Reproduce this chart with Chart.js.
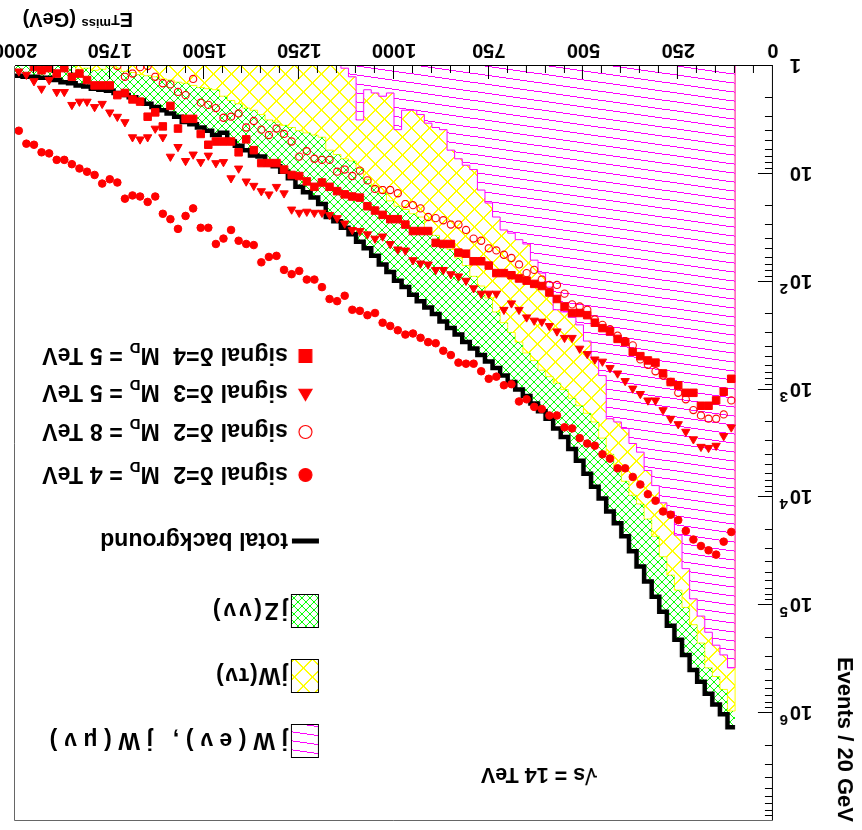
<!DOCTYPE html>
<html>
<head>
<meta charset="utf-8">
<script src="https://cdn.jsdelivr.net/npm/chart.js@4.4.1/dist/chart.umd.min.js"></script>
<style>
  html, body { margin: 0; padding: 0; background: #fff; }
  /* the reference picture is upside down, so the whole plot is turned */
  #wrap { width: 862px; height: 830px; transform: rotate(180deg); }
  canvas { display: block; }
</style>
</head>
<body>
<div id="wrap"><canvas id="chart" width="862" height="830"></canvas></div>
<script>
// binning and axis ranges
const binStart = 100;     // GeV, lower edge of first filled bin
const binWidth = 20;      // GeV
const xMin = 0, xMax = 2000;
const yMin = 1, yMax = 1e7;
const xMajorStep = 250, xMinorStep = 50;
const xTickLabels = [0, 250, 500, 750, 1000, 1250, 1500, 1750, 2000];
const yDecades = [0, 1, 2, 3, 4, 5, 6];

// all series are log10(events / 20 GeV), bins 100-120 ... 1980-2000
// stacked background tops: jW(ev)+jW(muv), + jW(tauv), + jZ(vv) = total
const stackEW = [
  5.58, 5.46, 5.37, 5.25, 5.10, 4.94, 4.66, 4.35, 4.13, 4.05,
  3.89, 3.75, 3.58, 3.50, 3.36, 3.30, 3.27, 2.87, 2.72, 2.55,
  2.40, 2.33, 2.28, 2.26, 2.05, 1.92, 1.80, 1.65, 1.61, 1.55,
  1.52, 1.40, 1.27, 1.15, 0.96, 0.92, 0.86, 0.78, 0.59, 0.57,
  0.53, 0.45, 0.41, 0.41, 0.59, 0.25, 0.28, 0.25, 0.22, 0.50,
  0.10, 0.02, -0.10, -0.15, -0.25, -0.30, -0.35, -0.40, -0.45, -0.50,
  -0.55, -0.60, -0.65, -0.70, -0.75, -0.80, -0.85, -0.90, -0.95, -1.0,
  -1.0, -1.0, -1.0, -1.0, -1.0, -1.0, -1.0, -1.0, -1.0, -1.0,
  -1.0, -1.0, -1.0, -1.0, -1.0, -1.0, -1.0, -1.0, -1.0, -1.0,
  -1.0, -1.0, -1.0, -1.0, -1.0
];
const stackTau = [
  5.98, 5.78, 5.66, 5.58, 5.35, 5.18, 5.02, 4.86, 4.72, 4.55,
  4.36, 4.20, 4.06, 3.98, 3.85, 3.72, 3.60, 3.45, 3.30, 3.22,
  3.15, 3.08, 3.00, 2.94, 2.88, 2.82, 2.73, 2.66, 2.56, 2.47,
  2.38, 2.28, 2.15, 2.04, 1.95, 1.85, 1.78, 1.70, 1.63, 1.57,
  1.50, 1.40, 1.37, 1.33, 1.30, 1.25, 1.18, 1.12, 1.05, 0.95,
  0.88, 0.86, 0.82, 0.78, 0.66, 0.64, 0.62, 0.60, 0.57, 0.55,
  0.52, 0.50, 0.45, 0.41, 0.39, 0.35, 0.32, 0.28, 0.22, 0.21,
  0.20, 0.18, 0.16, 0.15, 0.13, 0.12, 0.10, 0.09, 0.08, 0.06,
  0.05, 0.02, 0.00, 0.03, 0.04, 0.02, 0.03, -0.05, -0.10, -0.15,
  -0.25, -0.20, -0.35, -0.30, -0.40
];
const stackTotal = [
  6.13, 6.01, 5.92, 5.82, 5.71, 5.60, 5.46, 5.32, 5.19, 5.06,
  4.92, 4.78, 4.64, 4.50, 4.36, 4.24, 4.13, 4.01, 3.90, 3.78,
  3.66, 3.55, 3.44, 3.36, 3.27, 3.20, 3.13, 3.06, 3.00, 2.93,
  2.87, 2.80, 2.74, 2.68, 2.62, 2.56, 2.49, 2.43, 2.37, 2.30,
  2.24, 2.18, 2.12, 2.05, 1.99, 1.91, 1.84, 1.76, 1.69, 1.63,
  1.56, 1.50, 1.44, 1.40, 1.28, 1.22, 1.17, 1.12, 1.04, 0.98,
  0.93, 0.91, 0.84, 0.83, 0.78, 0.74, 0.70, 0.62, 0.64, 0.60,
  0.57, 0.54, 0.52, 0.47, 0.44, 0.41, 0.38, 0.35, 0.32, 0.29,
  0.27, 0.25, 0.23, 0.22, 0.21, 0.19, 0.18, 0.16, 0.15, 0.13,
  0.11, 0.11, 0.10, 0.10, 0.09
];

// signal points, one per bin (null = below the plot)
const sigD2M4 = [
  4.32, 4.41, 4.53, 4.49, 4.45, 4.39, 4.31, 4.21, 4.16, 4.13,
  4.03, 3.97, 3.88, 3.81, 3.73, 3.73, 3.64, 3.60, 3.52, 3.50,
  3.45, 3.36, 3.35, 3.24, 3.24, 3.18, 3.16, 3.09, 3.11, 2.95,
  2.96, 2.88, 2.90, 2.83, 2.76, 2.76, 2.75, 2.68, 2.64, 2.57,
  2.56, 2.52, 2.48, 2.49, 2.45, 2.41, 2.38, 2.29, 2.31, 2.27,
  2.26, 2.13, 2.18, 2.16, 2.05, 1.98, 1.98, 1.90, 1.93, 1.89,
  1.76, 1.77, 1.82, 1.66, 1.65, 1.62, 1.52, 1.60, 1.65, 1.50,
  1.50, 1.32, 1.39, 1.51, 1.42, 1.37, 1.21, 1.26, 1.21, 1.20,
  1.23, 1.08, 1.05, 1.09, 1.01, 0.98, 0.95, 0.91, 0.87, 0.87,
  0.81, 0.80, 0.73, 0.72, 0.60
];
const sigD2M8 = [
  3.10, 3.23, 3.27, 3.27, 3.24, 3.19, 3.09, 3.03, 2.93, 2.87,
  2.83, 2.77, 2.72, 2.59, 2.55, 2.50, 2.44, 2.40, 2.35, 2.26,
  2.23, 2.21, 2.11, 2.03, 2.03, 1.98, 1.89, 1.92, 1.84, 1.78,
  1.75, 1.71, 1.69, 1.62, 1.60, 1.52, 1.47, 1.47, 1.43, 1.41,
  1.40, 1.32, 1.29, 1.28, 1.18, 1.15, 1.15, 1.14, 1.06, 0.97,
  1.02, 0.96, 0.98, 0.87, 0.87, 0.86, 0.79, 0.84, 0.70, 0.63,
  0.58, 0.64, 0.59, 0.51, 0.57, 0.44, 0.47, 0.48, 0.39, 0.36,
  0.34, 0.12, 0.27, 0.24, 0.17, 0.16, 0.10, 0.00, 0.01, 0.07,
  0.10, 0.00, null, null, null, null, null, null, null, null,
  null, null, null, null, null
];
const sigD3M5 = [
  3.35, 3.43, 3.52, 3.54, 3.53, 3.46, 3.39, 3.32, 3.27, 3.19,
  3.10, 3.10, 3.04, 2.99, 2.92, 2.85, 2.80, 2.74, 2.72, 2.67,
  2.62, 2.52, 2.52, 2.46, 2.41, 2.37, 2.36, 2.33, 2.26, 2.20,
  2.26, 2.11, 2.11, 2.11, 2.06, 1.99, 1.95, 1.93, 1.89, 1.89,
  1.84, 1.83, 1.80, 1.71, 1.70, 1.65, 1.58, 1.60, 1.56, 1.53,
  1.52, 1.46, 1.41, 1.38, 1.36, 1.36, 1.35, 1.36, 1.33, 1.18,
  1.12, 1.19, 1.16, 1.11, 1.07, 0.95, 1.04, 0.89, 0.90, 0.83,
  0.89, 0.82, 0.88, 0.75, 0.84, 0.66, 0.58, 0.66, 0.68, 0.66,
  0.52, 0.47, 0.43, 0.35, 0.38, 0.33, 0.33, 0.36, 0.24, 0.24,
  0.13, 0.21, 0.14, 0.08, 0.05
];
const sigD4M5 = [
  2.90, 3.02, 3.10, 3.15, 3.15, 3.03, 3.03, 2.96, 2.93, 2.85,
  2.75, 2.73, 2.69, 2.65, 2.56, 2.53, 2.46, 2.43, 2.38, 2.31,
  2.29, 2.29, 2.23, 2.16, 2.10, 2.04, 2.02, 1.99, 1.97, 1.94,
  1.92, 1.92, 1.85, 1.81, 1.81, 1.74, 1.73, 1.65, 1.65, 1.64,
  1.53, 1.53, 1.53, 1.47, 1.42, 1.42, 1.38, 1.34, 1.30, 1.22,
  1.21, 1.19, 1.16, 1.12, 1.08, 1.12, 1.07, 1.02, 1.01, 0.96,
  0.90, 0.90, 0.90, 0.78, 0.68, 0.80, 0.70, 0.70, 0.70, 0.73,
  0.63, 0.49, 0.49, 0.58, 0.37, 0.56, 0.43, 0.47, 0.33, 0.31,
  0.25, 0.27, 0.18, 0.18, 0.18, 0.13, 0.07, 0.10, 0.02, 0.07,
  0.02, 0.04, 0.01, null, null
];

const FONT = '"Liberation Sans", Arial, Helvetica, sans-serif';
const RED = '#ff0000';
const PINK = '#ff00ff', YELLOW = '#ffff00', GREEN = '#00ff00';

const canvas = document.getElementById('chart');
const ctx = canvas.getContext('2d');

const toEvents = v => (v === null ? null : Math.pow(10, v));

// histogram outline: starts on the axis floor, one point per bin edge
const histPoints = vals => {
  const pts = [{ x: binStart, y: yMin }];
  vals.forEach((v, i) => pts.push({ x: binStart + i * binWidth, y: toEvents(v) }));
  pts.push({ x: binStart + vals.length * binWidth, y: toEvents(vals[vals.length - 1]) });
  return pts;
};
const markerPoints = vals => vals.map((v, i) => ({ x: binStart + (i + 0.5) * binWidth, y: toEvents(v) }));

// crisp hatch tiles, like the ROOT fill styles
const diamondTile = (s, color, thick) => {
  const c = document.createElement('canvas');
  c.width = s; c.height = s;
  const g = c.getContext('2d');
  g.fillStyle = color;
  const dot = (x, y) => g.fillRect(((x % s) + s) % s, y, 1, 1);
  for (let i = 0; i < s; i++) {
    dot(i, i);
    dot(s - 1 - i, i);
    if (thick) { dot(i + 1, i); dot(s - i, i); }
  }
  return ctx.createPattern(c, 'repeat');
};
const slantTile = (w, h, color) => {
  const c = document.createElement('canvas');
  c.width = w; c.height = h;
  const g = c.getContext('2d');
  g.fillStyle = color;
  for (let i = 0; i < w; i++) g.fillRect(i, Math.floor(i * h / w), 1, 1);
  return ctx.createPattern(c, 'repeat');
};
const pinkHatch = slantTile(64, 9, PINK);
const yellowHatch = diamondTile(18, YELLOW, true);
const greenHatch = diamondTile(8, GREEN, false);

const histCommon = { stepped: 'before', pointRadius: 0, pointHoverRadius: 0, clip: 0 };
const markerCommon = { showLine: false, clip: 0, order: 0, pointBorderColor: RED, pointHoverRadius: 0 };

// text made of pieces [text, size, dy]; optional target width spreads the letters
const drawRich = (c, x, y, parts, target) => {
  let natural = 0, chars = 0;
  for (const [t, size] of parts) {
    c.font = `bold ${size}px ${FONT}`;
    natural += c.measureText(t).width;
    chars += [...t].length;
  }
  const spacing = target ? Math.max(0, (target - natural) / chars) : 0;
  let cx = x;
  for (const [t, size, dy] of parts) {
    c.font = `bold ${size}px ${FONT}`;
    c.letterSpacing = `${spacing}px`;
    c.fillText(t, cx, y + dy);
    cx += c.measureText(t).width;
  }
  c.letterSpacing = '0px';
};

const frameAndTicks = {
  id: 'frameAndTicks',
  beforeDraw(chart) {
    const c = chart.ctx;
    c.save();
    c.fillStyle = '#fff';
    c.fillRect(0, 0, chart.width, chart.height);
    c.restore();
  },
  afterDatasetsDraw(chart) {
    const { ctx: c, chartArea: a, scales: { x, y } } = chart;
    c.save();
    c.lineWidth = 1;
    c.strokeStyle = '#000';
    c.beginPath();
    for (let v = xMin; v <= xMax; v += xMinorStep) {
      const px = Math.round(x.getPixelForValue(v)) + 0.5;
      const len = v % xMajorStep === 0 ? 13 : 7;
      c.moveTo(px, a.bottom); c.lineTo(px, a.bottom - len);
    }
    for (const n of yDecades) {
      for (let m = 1; m <= 9; m++) {
        const py = Math.round(y.getPixelForValue(m * Math.pow(10, n))) + 0.5;
        const len = m === 1 ? 15 : 8;
        c.moveTo(a.left, py); c.lineTo(a.left + len, py);
      }
    }
    c.stroke();
    // frame
    c.beginPath();
    c.moveTo(Math.round(a.left) + 0.5, a.top);
    c.lineTo(Math.round(a.left) + 0.5, Math.round(a.bottom) + 0.5);
    c.lineTo(a.right, Math.round(a.bottom) + 0.5);
    c.stroke();
    c.strokeStyle = '#666';
    c.beginPath();
    c.moveTo(Math.round(a.left), Math.round(a.top) + 0.5);
    c.lineTo(Math.round(a.right) + 0.5, Math.round(a.top) + 0.5);
    c.lineTo(Math.round(a.right) + 0.5, a.bottom);
    c.stroke();
    c.restore();
  },
  afterDraw(chart) {
    const { ctx: c, chartArea: a, scales: { x, y } } = chart;
    c.save();
    c.fillStyle = '#000';
    // x tick labels
    c.font = `bold 20px ${FONT}`;
    c.textAlign = 'center';
    c.textBaseline = 'alphabetic';
    for (const v of xTickLabels) c.fillText(String(v), x.getPixelForValue(v), a.bottom + 22);
    // y tick labels
    for (const n of yDecades) {
      const py = y.getPixelForValue(Math.pow(10, n));
      c.font = `bold 20px ${FONT}`;
      c.textAlign = 'right';
      c.fillText(n === 0 ? '1' : '10', 72, py + 7);
      if (n >= 2) {
        c.textAlign = 'left';
        c.font = `bold 15px ${FONT}`;
        c.fillText(String(n), 74, py - 2);
      }
    }
    // axis titles
    c.textAlign = 'left';
    drawRich(c, 729, 817, [['E', 20, 0], ['T', 14, -2], ['miss', 13, -6], [' (GeV)', 20, 0]]);
    c.save();
    c.translate(24, 8);
    c.rotate(-Math.PI / 2);
    c.textAlign = 'right';
    c.font = `bold 22px ${FONT}`;
    c.fillText('Events / 20 GeV', 0, 0);
    c.restore();
    // energy label
    c.font = `bold 21.5px ${FONT}`;
    c.fillText('\u221As = 14 TeV', 265, 62);
    c.restore();
  }
};

const LF = 23;  // legend font size
const legendRows = [
  { y: 88.5, box: pinkHatch, width: 245, parts: [['jW(e\u03BD), jW(\u03BC\u03BD)', LF, 0]] },
  { y: 153.5, box: yellowHatch, width: 73, parts: [['jW(\u03C4\u03BD)', LF, 0]] },
  { y: 218.5, box: greenHatch, width: 78, parts: [['jZ(\u03BD\u03BD)', LF, 0]] },
  { y: 289, line: true, width: 188, parts: [['total background', LF, 0]] },
  { y: 355, marker: { pointStyle: 'circle', radius: 6.5, fill: true }, width: 246, parts: [['signal \u03B4=2  M', LF, 0], ['D', 15, 5], [' = 4 TeV', LF, 0]] },
  { y: 398, marker: { pointStyle: 'circle', radius: 6.5, fill: false }, width: 246, parts: [['signal \u03B4=2  M', LF, 0], ['D', 15, 5], [' = 8 TeV', LF, 0]] },
  { y: 437, marker: { pointStyle: 'triangle', radius: 7.5, fill: true }, width: 246, parts: [['signal \u03B4=3  M', LF, 0], ['D', 15, 5], [' = 5 TeV', LF, 0]] },
  { y: 474, marker: { pointStyle: 'rect', radius: 9, fill: true }, width: 246, parts: [['signal \u03B4=4  M', LF, 0], ['D', 15, 5], [' = 5 TeV', LF, 0]] }
];

const legendBox = {
  id: 'legendBox',
  afterDraw(chart) {
    const c = chart.ctx;
    const mx = 556.5, tx = 574;
    c.save();
    for (const row of legendRows) {
      if (row.box) {
        c.fillStyle = row.box;
        c.fillRect(543, row.y - 16.5, 27, 33);
        c.strokeStyle = '#000';
        c.lineWidth = 1;
        c.strokeRect(543.5, Math.round(row.y - 16.5) + 0.5, 27, 33);
      } else if (row.line) {
        c.fillStyle = '#000';
        c.fillRect(543, row.y - 2.5, 27, 5);
      } else {
        const m = row.marker;
        c.fillStyle = m.fill ? RED : 'rgba(0,0,0,0)';
        c.strokeStyle = RED;
        c.lineWidth = 1.2;
        Chart.helpers.drawPoint(c, { pointStyle: m.pointStyle, radius: m.radius, rotation: 0, borderWidth: 1.2 }, mx, row.y);
      }
      c.fillStyle = '#000';
      c.textAlign = 'left';
      c.textBaseline = 'alphabetic';
      drawRich(c, tx, row.y + 8, row.parts, row.width);
    }
    c.restore();
  }
};

new Chart(ctx, {
  type: 'line',
  data: {
    datasets: [
      { label: 'jW(e\u03BD), jW(\u03BC\u03BD)', data: histPoints(stackEW), borderColor: PINK, borderWidth: 1,
        backgroundColor: pinkHatch, fill: 'start', order: 2, ...histCommon },
      { label: 'jW(\u03C4\u03BD)', data: histPoints(stackTau), borderColor: YELLOW, borderWidth: 1,
        backgroundColor: yellowHatch, fill: '-1', order: 3, ...histCommon },
      { label: 'total background', data: histPoints(stackTotal), borderColor: '#000', borderWidth: 4.5,
        backgroundColor: greenHatch, fill: '-1', order: 1, ...histCommon,
        segment: { borderColor: s => (s.p0DataIndex === 0 ? 'rgba(0,0,0,0)' : undefined) } },
      { label: 'signal \u03B4=2 M_D = 4 TeV', data: markerPoints(sigD2M4), ...markerCommon,
        pointStyle: 'circle', pointRadius: 3.8, pointBackgroundColor: RED, pointBorderWidth: 1 },
      { label: 'signal \u03B4=2 M_D = 8 TeV', data: markerPoints(sigD2M8), ...markerCommon,
        pointStyle: 'circle', pointRadius: 3.6, pointBackgroundColor: 'rgba(0,0,0,0)', pointBorderWidth: 1.1 },
      { label: 'signal \u03B4=3 M_D = 5 TeV', data: markerPoints(sigD3M5), ...markerCommon,
        pointStyle: 'triangle', pointRadius: 4.8, pointBackgroundColor: RED, pointBorderWidth: 1 },
      { label: 'signal \u03B4=4 M_D = 5 TeV', data: markerPoints(sigD4M5), ...markerCommon,
        pointStyle: 'rect', pointRadius: 5.3, pointBackgroundColor: RED, pointBorderWidth: 1 }
    ]
  },
  options: {
    responsive: false,
    animation: false,
    devicePixelRatio: 1,
    events: [],
    layout: { padding: { left: 89, right: 15, top: 9, bottom: 66 } },
    scales: {
      x: { type: 'linear', min: xMin, max: xMax, display: false },
      y: { type: 'logarithmic', min: yMin, max: yMax, display: false }
    },
    plugins: { legend: { display: false }, tooltip: { enabled: false } }
  },
  plugins: [frameAndTicks, legendBox]
});
</script>
</body>
</html>
